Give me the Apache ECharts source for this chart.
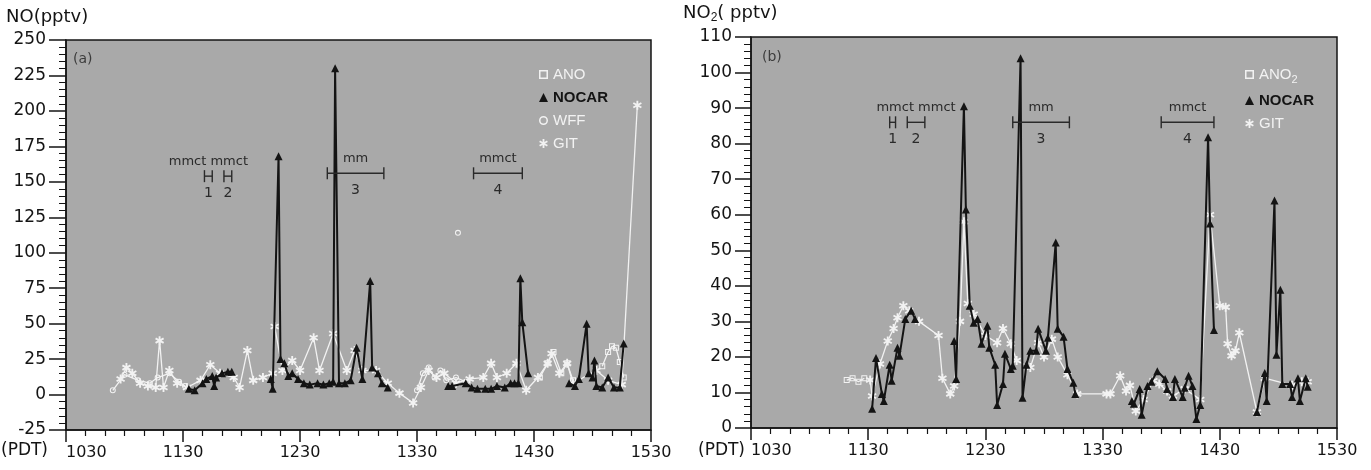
<!DOCTYPE html>
<html>
<head>
<meta charset="utf-8">
<script src="https://cdn.jsdelivr.net/npm/echarts@6/dist/echarts.min.js"></script>
<style>
html, body { margin: 0; padding: 0; background: #fff; }
#chart { width: 1371px; height: 470px; }
</style>
</head>
<body>
<div id="chart"></div>
<script>
// clock times are PDT as hhmm, null = gap in the record

// (a) NO
const noTimeNocar = [1133, 1136, 1140, 1142, 1145, 1146, 1147, 1150, 1153, 1155, null,
  1215, 1216, 1219, 1220, 1222, 1224, 1226, 1229, 1232, 1235, 1239, 1242, 1245, 1247, 1248, 1250, 1253, 1256, 1259, 1302, 1306, 1307, 1310, 1312, 1315, null,
  1346, 1348, 1355, 1358, 1401, 1405, 1408, 1411, 1415, 1418, 1420, 1422, 1423, 1424, 1427, null,
  1448, 1451, 1453, 1457, 1458, 1500, 1501, 1502, 1505, 1508, 1511, 1514, 1516]
const noNocar = [4, 3, 8, 11, 13, 6, 12, 15, 16, 16, null,
  11, 4, 168, 25, 22, 13, 15, 11, 8, 7, 8, 7, 8, 9, 230, 8, 8, 10, 33, 11, 80, 19, 15, 8, 5, null,
  6, 6, 8, 5, 4, 4, 4, 6, 5, 8, 8, 8, 82, 51, 15, null,
  8, 6, 11, 50, 15, 12, 24, 6, 5, 12, 5, 5, 36]

const noTimeGit = [1058, 1101, 1104, 1108, 1112, 1116, 1118, 1120, 1123, 1127, 1132, 1139, 1144, 1149, 1156, 1159, 1203, 1206, 1211, 1216,
  1217, 1221, 1226, 1230, 1237, 1240, 1247, 1254, 1258, 1302, 1309, 1315, 1321, 1328, 1332, 1336, 1340, 1344, 1350, 1357,
  1404, 1408, 1411, 1416, 1421, 1426, 1432, 1437, 1439, 1443, 1447, 1450, 1502, 1508, 1515, 1523]
const noGit = [11, 19, 15, 8, 6, 5, 38, 5, 17, 8, 5, 10, 21, 15, 12, 5, 31, 10, 12, 15,
  48, 17, 24, 17, 40, 17, 43, 17, 31, 17, 17, 8, 1, -6, 5, 17, 12, 15, 8, 11,
  12, 22, 12, 15, 22, 3, 12, 22, 29, 15, 22, 8, 17, 10, 7, 204]

const noTimeWff = [1054, 1100, 1107, 1113, 1117, 1123, 1128, 1131, null, 1330, 1333, 1336, 1339, 1342, 1345, 1350, 1355, null, 1351]
const noWff = [3, 14, 10, 8, 12, 15, 9, 6, null, 3, 15, 19, 12, 17, 10, 12, 9, null, 114]

const noTimeAno = [1433, 1437, 1440, 1444, 1447, 1450, null, 1505, 1508, 1510, 1512, 1514, 1516]
const noAno = [12, 22, 30, 15, 22, 10, null, 20, 30, 34, 33, 23, 12]

// (b) NO2
const no2TimeNocar = [1132, 1134, 1137, 1138, 1141, 1142, 1145, 1146, 1149, 1152, 1154, null,
  1214, 1215, 1219, 1220, 1222, 1224, 1226, 1228, 1231, 1232, 1235, 1236, 1239, 1240, 1243, 1244, 1248, 1249, 1251, 1253,
  1256, 1257, 1301, 1302, 1306, 1307, 1310, 1312, 1315, 1316, null,
  1345, 1346, 1349, 1350, 1353, 1355, 1358, 1402, 1403, 1406, 1407, 1411, 1412, 1414, 1416, 1418, 1420, 1424, 1425, 1427, null,
  1449, 1453, 1454, 1458, 1459, 1501, 1502, 1506, 1507, 1510, 1511, 1514, 1515]
const no2Nocar = [5.4, 19.7, 9.6, 7.6, 17.8, 13.3, 22.6, 20.3, 30.7, 33, 30.7, null,
  24.5, 13.8, 90.5, 61.5, 34.4, 29.6, 30.7, 23.7, 28.8, 22.6, 17.8, 6.5, 12.4, 20.9, 16.6, 17.5, 104, 8.5, 17.8, 21.7,
  21.7, 27.9, 21.7, 25.4, 52.2, 27.9, 25.7, 16.6, 12.7, 9.6, null,
  7.6, 6.8, 11, 3.7, 11.8, 13, 16, 13.8, 11, 8.7, 13.8, 8.7, 11.3, 14.7, 11.8, 2.5, 6.5, 81.8, 57.5, 27.6, null,
  4.5, 15.5, 7.6, 64, 20.6, 38.9, 12.4, 12.4, 8.7, 14, 7.6, 14, 11.6]

const no2TimeGit = [1131, 1132, 1136, 1140, 1143, 1145, 1148, 1151, 1156, 1206, 1208, 1212, 1214, 1217, 1219, 1221, 1224, 1230, 1236, 1239,
  1243, 1246, 1253, 1257, 1300, 1304, 1307, 1312, 1317, 1332, 1334, 1339, 1342, 1344, 1347, 1351, 1356, 1359, 1403, 1406,
  1412, 1420, 1425, 1430, 1433, 1434, 1436, 1438, 1440, 1449, 1453, 1507, 1512, 1515]
const no2Git = [13.5, 9, 18, 24.5, 28, 31, 34.4, 33, 30, 26, 14, 9.6, 11.8, 30, 58, 35, 32, 26, 24, 28,
  23.7, 19, 17, 24, 20, 25, 20, 15, 9.6, 9.6, 9.6, 14.7, 10.4, 12, 4.8, 8, 13.3, 12.4, 10.4, 9,
  11, 8, 60, 34.4, 34, 23.7, 20.3, 21.7, 26.8, 4.5, 14, 12, 13, 13]

const no2TimeAno = [1119, 1122, 1125, 1128]
const no2Ano = [13.5, 14, 13, 14]

// sampling periods: start, end, level, label above, label below
const periodsNo = [[1141, 1145, 154, 'mmct mmct', '1'], [1151, 1155, 154, '', '2'], [1244, 1313, 156, 'mm', '3'], [1359, 1424, 156, 'mmct', '4']]
const periodsNo2 = [[1141, 1144, 86, '', '1'], [1150, 1159, 86, 'mmct mmct', '2'], [1244, 1313, 86, 'mm', '3'], [1400, 1427, 86, 'mmct', '4']]

const yTicksNo = { min: -25, max: 250, step: 25 }
const yTicksNo2 = { min: 0, max: 110, step: 10 }

function toMin(hhmm) {
  return Math.floor(hhmm / 100) * 60 + (hhmm % 100) - 630
}
function clock(m) {
  const t = m + 630
  return String(Math.floor(t / 60) * 100 + (t % 60))
}
function pairs(ts, vs) {
  return ts.map((t, i) => (t == null || vs[i] == null ? '-' : [toMin(t), vs[i]]))
}

const ink = '#141414'
const paper = '#f2f2f2'
const font = 'DejaVu Sans'
const star = 'path://M-1,-5L1,-5L1,5L-1,5ZM3.83,-3.37L4.83,-1.63L-3.83,3.37L-4.83,1.63ZM-4.83,-1.63L-3.83,-3.37L4.83,1.63L3.83,3.37Z'
// hollow marks (outer ring clockwise, hole the other way)
const box = 'path://M-5,-5L5,-5L5,5L-5,5ZM-3.3,-3.3L-3.3,3.3L3.3,3.3L3.3,-3.3Z'
const ring = 'path://M-5,0A5,5 0 1 1 5,0A5,5 0 1 1 -5,0ZM-3.3,0A3.3,3.3 0 1 0 3.3,0A3.3,3.3 0 1 0 -3.3,0Z'

function whiteLine(name, idx, data, symbol, size) {
  return {
    name, type: 'line', xAxisIndex: idx, yAxisIndex: idx, data, symbol, symbolSize: size,
    connectNulls: false, z: 3,
    lineStyle: { color: paper, width: 1.3 },
    itemStyle: { color: paper }
  }
}
function nocarLine(idx, data) {
  return {
    name: 'NOCAR', type: 'line', xAxisIndex: idx, yAxisIndex: idx, data, symbol: 'triangle', symbolSize: 8,
    connectNulls: false, z: 6,
    lineStyle: { color: ink, width: 2 },
    itemStyle: { color: ink }
  }
}
function periods(list, idx) {
  return {
    type: 'custom', xAxisIndex: idx, yAxisIndex: idx, silent: true, z: 8,
    data: list.map(p => [toMin(p[0]), toMin(p[1]), p[2]]),
    encode: { x: [0, 1], y: 2 },
    renderItem(params, api) {
      const p = list[params.dataIndex]
      const a = api.coord([api.value(0), api.value(2)])
      const b = api.coord([api.value(1), api.value(2)])
      const y = a[1], cx = (a[0] + b[0]) / 2
      const st = { stroke: '#2a2a2a', lineWidth: 1.4 }
      return {
        type: 'group',
        children: [
          { type: 'line', shape: { x1: a[0], y1: y, x2: b[0], y2: y }, style: st },
          { type: 'line', shape: { x1: a[0], y1: y - 6, x2: a[0], y2: y + 6 }, style: st },
          { type: 'line', shape: { x1: b[0], y1: y - 6, x2: b[0], y2: y + 6 }, style: st },
          { type: 'text', x: cx, y: y - 8, style: { text: p[3], fill: '#2a2a2a', font: '13px ' + font, align: 'center', verticalAlign: 'bottom' } },
          { type: 'text', x: cx, y: y + 10, style: { text: p[4], fill: '#2a2a2a', font: '14px ' + font, align: 'center', verticalAlign: 'top' } }
        ]
      }
    }
  }
}
function xAxis(idx) {
  return {
    type: 'value', gridIndex: idx, min: 0, max: 300, interval: 60,
    axisLine: { onZero: false, lineStyle: { color: ink, width: 1.5 } },
    axisTick: { length: 12, lineStyle: { color: ink, width: 1.5 } },
    minorTick: { show: true, splitNumber: 6, length: 6, lineStyle: { color: ink, width: 1.2 } },
    splitLine: { show: false },
    axisLabel: { formatter: clock, color: ink, fontSize: 16, fontFamily: font, margin: 15, alignMinLabel: 'left' }
  }
}
function yAxis(idx, t, tick) {
  return {
    type: 'value', gridIndex: idx, min: t.min, max: t.max, interval: t.step,
    axisLine: { show: true, onZero: false, lineStyle: { color: ink, width: 1.5 } },
    axisTick: { show: true, length: tick, lineStyle: { color: ink, width: 1.5 } },
    minorTick: { show: true, splitNumber: 5, length: 7, lineStyle: { color: ink, width: 1 } },
    splitLine: { show: false },
    axisLabel: { color: ink, fontSize: 17, fontFamily: font, margin: tick + 3 }
  }
}
function legend(left, names, rich) {
  return {
    orient: 'vertical', left, top: 62, itemGap: 8, itemWidth: 9, itemHeight: 9,
    selectedMode: false,
    textStyle: { color: paper, fontSize: 15, fontFamily: 'Liberation Sans', rich },
    data: names
  }
}

const chart = echarts.init(document.getElementById('chart'))
chart.setOption({
  animation: false,
  backgroundColor: '#fff',
  grid: [
    { left: 66, top: 40, width: 585, height: 390, show: true, backgroundColor: '#a9a9a9', borderColor: ink, borderWidth: 1.5 },
    { left: 751, top: 37, width: 586, height: 391, show: true, backgroundColor: '#a9a9a9', borderColor: ink, borderWidth: 1.5 }
  ],
  xAxis: [xAxis(0), xAxis(1)],
  yAxis: [yAxis(0, yTicksNo, 17), yAxis(1, yTicksNo2, 16)],
  legend: [
    legend(534, [
      { name: 'ANO', icon: box },
      { name: 'NOCAR', icon: 'triangle', textStyle: { color: ink, fontWeight: 'bold' } },
      { name: 'WFF', icon: ring },
      { name: 'GIT', icon: star }
    ]),
    Object.assign(legend(1240, [
      { name: 'ANO2', icon: box },
      { name: 'NOCAR', icon: 'triangle', textStyle: { color: ink, fontWeight: 'bold' } },
      { name: 'GIT', icon: star }
    ], { s: { fontSize: 11, padding: [10, 0, 0, 0], color: paper } }), {
      formatter: n => (n === 'ANO2' ? 'ANO{s|2}' : n)
    })
  ],
  graphic: [
    { type: 'text', left: 6, top: 8, style: { text: 'NO(pptv)', fill: ink, font: '18px ' + font } },
    { type: 'text', left: 683, top: 4, style: { text: 'NO{s|2}( pptv)', fill: ink, font: '18px ' + font, rich: { s: { fontSize: 12, padding: [9, 0, 0, 0], fill: ink } } } },
    { type: 'text', left: 1, top: 442, style: { text: '(PDT)', fill: ink, font: '17px ' + font } },
    { type: 'text', left: 698, top: 442, style: { text: '(PDT)', fill: ink, font: '17px ' + font } },
    { type: 'text', left: 73, top: 52, style: { text: '(a)', fill: '#3c3c3c', font: '14px ' + font } },
    { type: 'text', left: 762, top: 50, style: { text: '(b)', fill: '#3c3c3c', font: '14px ' + font } }
  ],
  series: [
    whiteLine('ANO', 0, pairs(noTimeAno, noAno), box, 6),
    whiteLine('WFF', 0, pairs(noTimeWff, noWff), ring, 6),
    whiteLine('GIT', 0, pairs(noTimeGit, noGit), star, 9),
    nocarLine(0, pairs(noTimeNocar, noNocar)),
    periods(periodsNo, 0),
    whiteLine('ANO2', 1, pairs(no2TimeAno, no2Ano), box, 6),
    whiteLine('GIT', 1, pairs(no2TimeGit, no2Git), star, 9),
    nocarLine(1, pairs(no2TimeNocar, no2Nocar)),
    periods(periodsNo2, 1)
  ]
})
</script>
</body>
</html>
